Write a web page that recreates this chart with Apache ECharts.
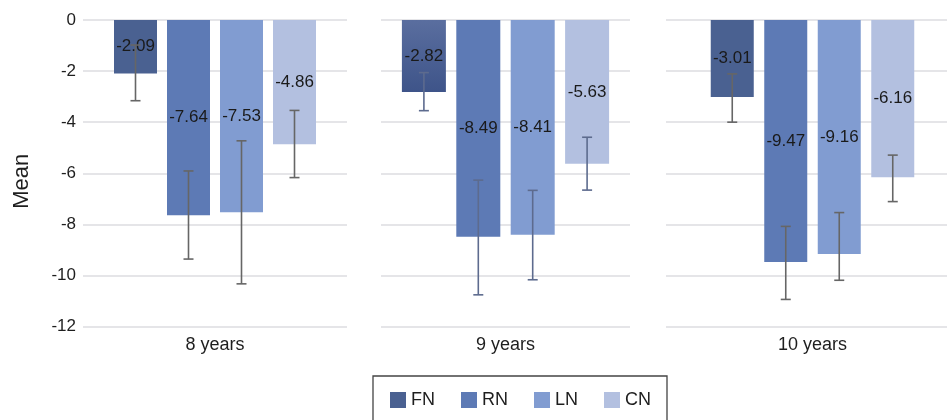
<!DOCTYPE html>
<html>
<head>
<meta charset="utf-8">
<script src="https://cdn.jsdelivr.net/npm/echarts@6/dist/echarts.min.js"></script>
<style>html,body{margin:0;padding:0;background:#fff;overflow:hidden}#c{width:960px;height:420px}</style>
</head>
<body>
<div id="c"></div>
<script>
var categories = ['8 years', '9 years', '10 years'];
var seriesNames = ['FN', 'RN', 'LN', 'CN'];
var FN = [-2.09, -2.82, -3.01];
var RN = [-7.64, -8.49, -9.47];
var LN = [-7.53, -8.41, -9.16];
var CN = [-4.86, -5.63, -6.16];
var FN_hi = [-0.98, -2.06, -2.11], FN_lo = [-3.16, -3.55, -4.00];
var RN_hi = [-5.91, -6.27, -8.08], RN_lo = [-9.36, -10.76, -10.94];
var LN_hi = [-4.73, -6.67, -7.54], LN_lo = [-10.33, -10.17, -10.19];
var CN_hi = [-3.54, -4.59, -5.29], CN_lo = [-6.17, -6.66, -7.11];
var yTicks = [0, -2, -4, -6, -8, -10, -12];

var values = [FN, RN, LN, CN];
var his = [FN_hi, RN_hi, LN_hi, CN_hi];
var los = [FN_lo, RN_lo, LN_lo, CN_lo];
var colors = ['#4a6191', '#5d7ab5', '#819cd1', '#b3c0e0'];
var gridLayout = [
  {left: 83, width: 264, bw: 43, gap: 10, err: '#666666'},
  {left: 381, width: 249, bw: 44, gap: 10.4, err: '#5d6b8e'},
  {left: 666, width: 293, bw: 43, gap: 10.5, err: '#666666'}
];
var TOP = 20, H = 306.5, FS = 17;
var FF = 'Liberation Sans, Arial, sans-serif';

var grids = [], xAxes = [], yAxes = [], series = [];
gridLayout.forEach(function (g, gi) {
  grids.push({left: g.left, width: g.width, top: TOP, height: H, containLabel: false});
  xAxes.push({
    type: 'category', gridIndex: gi, data: [categories[gi]], position: 'bottom',
    axisLine: {show: false, onZero: false}, axisTick: {show: false},
    axisLabel: {fontSize: 18, color: '#1e1e1e', margin: 10, fontFamily: FF},
    splitLine: {show: false}
  });
  yAxes.push({
    type: 'value', gridIndex: gi, min: -12, max: 0, interval: 2,
    axisLine: {show: false}, axisTick: {show: false},
    axisLabel: {show: gi === 0, fontSize: FS, color: '#1e1e1e', margin: 7, fontFamily: FF,
      formatter: function (v) { return yTicks.indexOf(v) >= 0 ? String(v) : ''; }},
    splitLine: {show: true, lineStyle: {color: '#dcdce0', width: 1.5}},
    name: gi === 0 ? 'Mean' : '', nameLocation: 'middle', nameGap: 50,
    nameTextStyle: {fontSize: 22, color: '#1e1e1e', fontFamily: FF, padding: [0, 16, 0, 0]}
  });
  seriesNames.forEach(function (name, si) {
    var col = colors[si];
    if (gi === 1 && si === 0) {
      col = {type: 'linear', x: 0, y: 0, x2: 0, y2: 1, colorStops: [{offset: 0, color: '#5a6e9f'}, {offset: 1, color: '#3e5489'}]};
    }
    series.push({
      type: 'bar', name: name, xAxisIndex: gi, yAxisIndex: gi,
      data: [values[si][gi]], barWidth: g.bw, barGap: (g.gap / g.bw * 100) + '%',
      itemStyle: {color: col},
      label: {show: true, position: 'inside', fontSize: FS, color: '#1a1a1a', fontFamily: FF,
        formatter: function (p) { return p.value.toFixed(2); }},
      z: 2
    });
  });
  var errData = seriesNames.map(function (n, si) { return [0, los[si][gi], his[si][gi], si]; });
  series.push({
    type: 'custom', xAxisIndex: gi, yAxisIndex: gi, z: 3,
    encode: {x: 0, y: [1, 2]},
    data: errData,
    renderItem: (function (g) {
      return function (params, api) {
        var si = api.value(3);
        var pLo = api.coord([0, api.value(1)]);
        var pHi = api.coord([0, api.value(2)]);
        var x = pLo[0] + (si - 1.5) * (g.bw + g.gap);
        var cap = 5;
        var st = {stroke: g.err, lineWidth: 1.6};
        return {type: 'group', children: [
          {type: 'line', shape: {x1: x, y1: pHi[1], x2: x, y2: pLo[1]}, style: st},
          {type: 'line', shape: {x1: x - cap, y1: pHi[1], x2: x + cap, y2: pHi[1]}, style: st},
          {type: 'line', shape: {x1: x - cap, y1: pLo[1], x2: x + cap, y2: pLo[1]}, style: st}
        ]};
      };
    })(g),
    silent: true
  });
});

var chart = echarts.init(document.getElementById('c'), null, {renderer: 'canvas'});
chart.setOption({
  animation: false,
  backgroundColor: '#ffffff',
  grid: grids, xAxis: xAxes, yAxis: yAxes, series: series,
  legend: {
    data: seriesNames, left: 373, top: 376, itemWidth: 16, itemHeight: 16, itemGap: 26,
    padding: [15, 16, 20, 17], borderColor: '#444444', borderWidth: 1.3,
    icon: 'rect',
    textStyle: {fontSize: 18, color: '#1e1e1e', lineHeight: 16, fontFamily: FF}
  }
});
</script>
</body>
</html>
